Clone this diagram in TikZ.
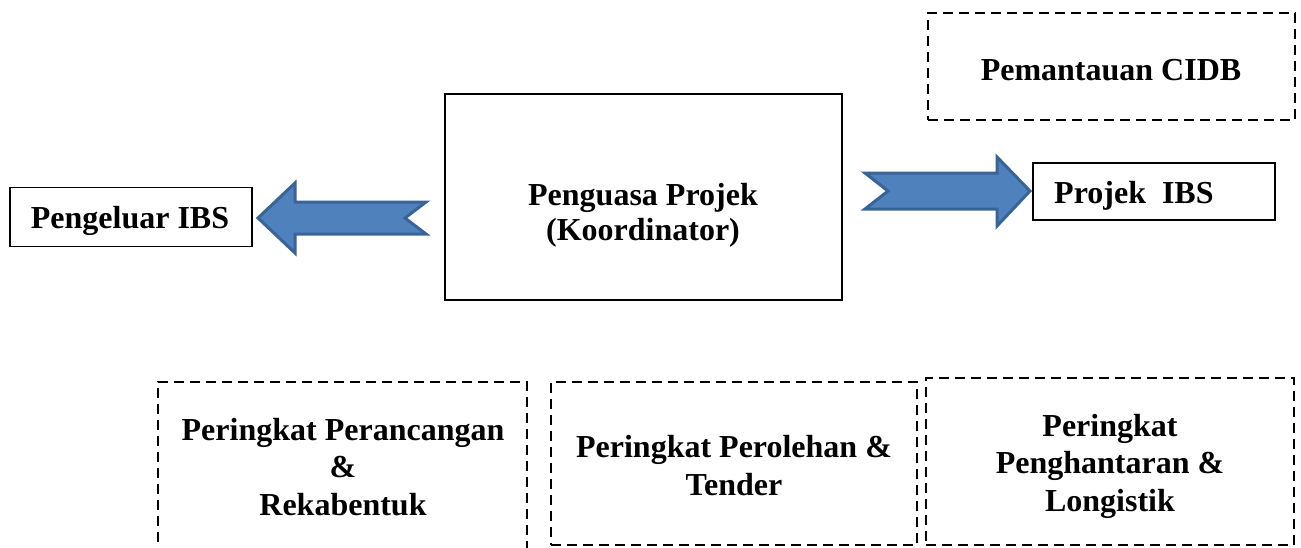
\documentclass[tikz,border=0pt]{standalone}
\usepackage{fontspec}
\setmainfont{Liberation Serif}
\begin{document}
\begin{tikzpicture}[x=1pt,y=-1pt,
  lbl/.style={font=\fontsize{32}{37.5}\selectfont\bfseries, align=center, inner sep=0pt, anchor=base},
  solidbox/.style={draw=black, line width=1.8pt, inner sep=0pt},
  dashbox/.style={draw=black, line width=2.6pt, dash pattern=on 10pt off 6pt, inner sep=0pt},
  blockarrow/.style={fill=arrowfill, draw=arrowline, line width=3pt, line join=miter}]
\definecolor{arrowfill}{HTML}{4F81BD}
\definecolor{arrowline}{HTML}{3A6396}
\useasboundingbox (0,0) rectangle (1301,547);
\clip (0,0) rectangle (1301,547);

% boxes
\node[solidbox, minimum width=242pt, minimum height=59pt] (pengeluar) at (131,217) {};
\node[solidbox, minimum width=397pt, minimum height=206pt] (penguasa) at (643.5,197) {};
\node[solidbox, minimum width=242pt, minimum height=57pt] (projek) at (1154,191.5) {};
\node[dashbox, minimum width=367pt, minimum height=107pt] (cidb) at (1111.5,66.5) {};
\node[dashbox, minimum width=369pt, minimum height=200pt] (rekabentuk) at (342.5,482) {};
\node[dashbox, minimum width=366pt, minimum height=163pt] (tender) at (734,463.5) {};
\node[dashbox, minimum width=368pt, minimum height=167pt] (logistik) at (1110,461.5) {};

% labels (base anchor sits on the last line)
\node[lbl] (tpengeluar) at (130,228) {Pengeluar IBS};
\node[lbl, font=\fontsize{32}{35}\selectfont\bfseries] (tpenguasa) at (643,240) {Penguasa Projek\\(Koordinator)};
\node[lbl, anchor=base west] (tprojek) at (1054,203) {Projek\ \ IBS};
\node[lbl] (tcidb) at (1111,80) {Pemantauan CIDB};
\node[lbl] (trekabentuk) at (343,515) {Peringkat Perancangan\\\&\\Rekabentuk};
\node[lbl] (ttender) at (734,495) {Peringkat Perolehan \&\\Tender};
\node[lbl] (tlogistik) at (1110,511) {Peringkat\\Penghantaran \&\\Longistik};

% block arrows between the coordinator and its partners
\draw[blockarrow] (258,218) -- (295,183) -- (295,202) -- (426,202) -- (405,218)
  -- (426,234) -- (295,234) -- (295,253) -- cycle;
\draw[blockarrow] (865,173) -- (997,173) -- (997,157) -- (1030,191) -- (997,226)
  -- (997,209) -- (865,209) -- (888,191) -- cycle;
\end{tikzpicture}
\end{document}
